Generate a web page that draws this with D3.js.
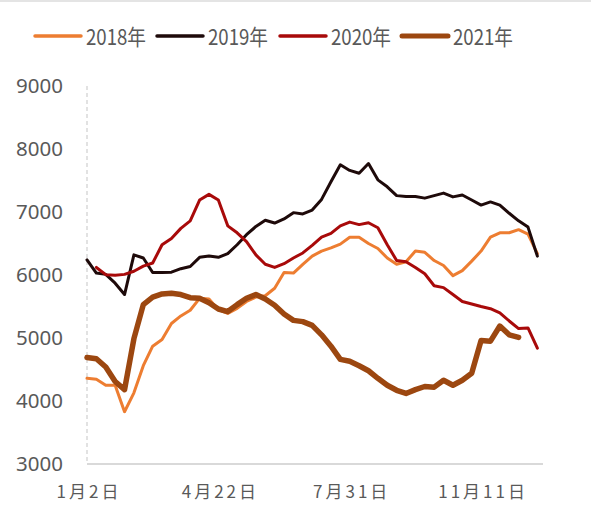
<!DOCTYPE html>
<html>
<head>
<meta charset="utf-8">
<script src="https://cdn.jsdelivr.net/npm/d3@7"></script>
<style>
  html, body { margin: 0; padding: 0; background: #fff; }
  svg { display: block; }
</style>
</head>
<body>
<svg id="chart" width="591" height="524"></svg>
<script>
// Weekly price series, one array per year (week index starts at each series' first week)
const seriesNames = ["2018年", "2019年", "2020年", "2021年"];
const seriesColors = ["#ED7D31", "#1E0A0A", "#A80A0A", "#9C4710"];
const seriesWidths = [3, 3, 3, 5.5];
const seriesStart = [0, 0, 1, 0];

const values2018 = [4360, 4345, 4250, 4250, 3830, 4130, 4560, 4870, 4975, 5230,
  5350, 5440, 5630, 5620, 5450, 5390, 5470, 5580, 5650, 5670,
  5790, 6040, 6030, 6170, 6300, 6380, 6430, 6490, 6600, 6600,
  6500, 6420, 6270, 6170, 6210, 6380, 6360, 6230, 6150, 5990,
  6070, 6220, 6380, 6600, 6670, 6670, 6720, 6650, 6340];

const values2019 = [6240, 6030, 6010, 5870, 5690, 6320, 6270, 6040, 6040, 6045,
  6100, 6135, 6280, 6300, 6280, 6340, 6480, 6640, 6770, 6870,
  6825, 6890, 6990, 6970, 7030, 7200, 7480, 7750, 7660, 7615,
  7770, 7510, 7400, 7260, 7245, 7245, 7220, 7260, 7300, 7240,
  7270, 7190, 7110, 7160, 7110, 6980, 6860, 6760, 6300];

const values2020 = [6120, 6005, 5995, 6010, 6060, 6140, 6190, 6480, 6580, 6740,
  6860, 7190, 7280, 7190, 6780, 6670, 6530, 6320, 6170, 6120,
  6180, 6270, 6350, 6470, 6600, 6660, 6780, 6840, 6800, 6830,
  6750, 6480, 6230, 6210, 6120, 6020, 5830, 5800, 5690, 5580,
  5540, 5500, 5465, 5400, 5270, 5150, 5160, 4840];

const values2021 = [4690, 4670, 4540, 4310, 4180, 4990, 5530, 5650, 5700, 5710,
  5690, 5640, 5630, 5560, 5460, 5420, 5530, 5630, 5690, 5620,
  5520, 5380, 5280, 5260, 5200, 5050, 4870, 4660, 4630, 4560,
  4480, 4360, 4250, 4170, 4120, 4180, 4230, 4220, 4330, 4250,
  4330, 4440, 4960, 4950, 5190, 5050, 5010];

const yTicks = [3000, 4000, 5000, 6000, 7000, 8000, 9000];
const dateLabels = ["1月2日", "4月22日", "7月31日", "11月11日"];
const dateLabelWeeks = [0, 14, 28, 42];
const weekCount = 48.6;

const allValues = [values2018, values2019, values2020, values2021];

const svg = d3.select("#chart");
const textColor = "#595959";
const axisColor = "#D9D9D9";

// thin band along the top edge
svg.append("rect").attr("x", 0).attr("y", 0).attr("width", 591).attr("height", 2).attr("fill", "#E4E4E4");

const x = d3.scaleLinear().domain([0, weekCount]).range([87, 543]);
const y = d3.scaleLinear().domain([3000, 9000]).range([464, 86]);

// dashed value axis line
svg.append("line")
  .attr("x1", x(0)).attr("x2", x(0))
  .attr("y1", y(9000)).attr("y2", y(3000))
  .attr("stroke", axisColor).attr("stroke-width", 1.5)
  .attr("stroke-dasharray", "4,3");

// y axis labels
const yAxis = svg.append("g")
  .attr("transform", `translate(${x(0)},0)`)
  .call(d3.axisLeft(y).tickValues(yTicks).tickSize(0).tickPadding(24).tickFormat(d3.format("d")));
yAxis.select(".domain").remove();
yAxis.selectAll("text")
  .attr("fill", textColor)
  .style("font-family", "'Noto Sans', 'DejaVu Sans', sans-serif")
  .style("font-size", "20.5px");

// category axis line
svg.append("line")
  .attr("x1", x(0)).attr("x2", x(weekCount))
  .attr("y1", y(3000)).attr("y2", y(3000))
  .attr("stroke", axisColor).attr("stroke-width", 2);

// date labels
const xAxis = svg.append("g")
  .attr("transform", `translate(0,${y(3000)})`)
  .call(d3.axisBottom(x).tickValues(dateLabelWeeks).tickSize(0).tickPadding(22)
    .tickFormat((d, i) => dateLabels[i]));
xAxis.select(".domain").remove();
xAxis.selectAll("text")
  .attr("fill", textColor)
  .attr("dx", "1.5px")
  .style("font-family", "'Noto Sans CJK SC', sans-serif")
  .style("font-size", "17px")
  .style("letter-spacing", "3px");

// series lines
const line = d3.line()
  .x(d => x(d.w))
  .y(d => y(d.v));

allValues.forEach((vals, k) => {
  const pts = vals.map((v, i) => ({ w: i + seriesStart[k], v }));
  svg.append("path")
    .datum(pts)
    .attr("fill", "none")
    .attr("stroke", seriesColors[k])
    .attr("stroke-width", seriesWidths[k])
    .attr("stroke-linejoin", "round")
    .attr("stroke-linecap", "round")
    .attr("d", line);
});

// legend
const legendX = [35, 157, 280, 402];
const legend = svg.append("g");
seriesNames.forEach((name, k) => {
  const g = legend.append("g").attr("transform", `translate(${legendX[k]},36)`);
  g.append("line")
    .attr("x1", 0).attr("x2", 46).attr("y1", 0).attr("y2", 0)
    .attr("stroke", seriesColors[k])
    .attr("stroke-width", k === 3 ? 5 : 3.5)
    .attr("stroke-linecap", "round");
  g.append("text")
    .attr("x", 51).attr("y", 9)
    .attr("fill", textColor)
    .attr("textLength", 60)
    .attr("lengthAdjust", "spacingAndGlyphs")
    .style("font-family", "'Noto Sans CJK SC', sans-serif")
    .style("font-size", "22px")
    .text(name);
});
</script>
</body>
</html>
